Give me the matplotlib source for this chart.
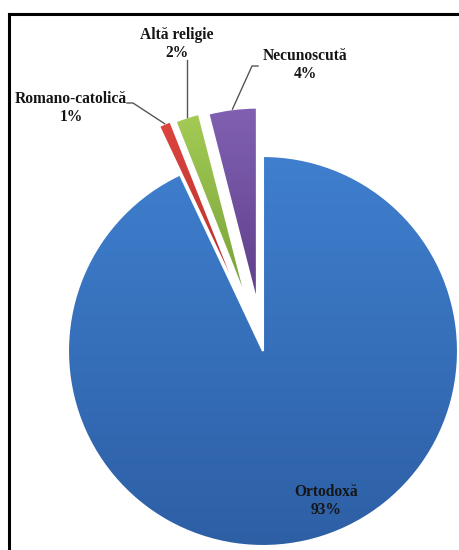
import numpy as np
import matplotlib.pyplot as plt
from matplotlib.colors import LinearSegmentedColormap
from matplotlib.lines import Line2D

# donnees
categories = ['Ortodoxă', 'Romano-catolică', 'Altă religie', 'Necunoscută']
values = [93, 1, 2, 4]
pct_labels = ['93%', '1%', '2%', '4%']

# styles
top_colors = ['#3f7fce', '#dc4540', '#a3cb55', '#8160b2']
bottom_colors = ['#2d5fa5', '#b52f2a', '#76a038', '#5e3f8a']
explode = [0, 0.27, 0.26, 0.25]

W, H = 460, 550
CX, CY, R = 263, 351, 195


def to_data(px, py):
    # pixel de l'image -> coordonnees du camembert
    return (px - CX) / R, (CY - py) / R


fig = plt.figure(figsize=(W / 100, H / 100), dpi=100)
ax = fig.add_axes([0, 0, 1, 1])

wedges, _ = ax.pie(values, startangle=90, counterclock=False, explode=explode,
                   radius=1, center=(0, 0), normalize=True,
                   wedgeprops=dict(linewidth=1.5, edgecolor='white'))

# degrade vertical dans chaque part
grad = np.linspace(1, 0, 256).reshape(-1, 1)
for w, c0, c1 in zip(wedges, top_colors, bottom_colors):
    cmap = LinearSegmentedColormap.from_list('g', [c1, c0])
    ext = w.get_path().get_extents()
    im = ax.imshow(grad, extent=(ext.x0, ext.x1, ext.y0, ext.y1), cmap=cmap,
                   aspect='auto', origin='upper', zorder=1, interpolation='bilinear')
    im.set_clip_path(w)
    w.set_facecolor('none')
    w.set_zorder(2)

# etiquettes et traits de rappel
font = dict(family=['Liberation Serif', 'DejaVu Serif'], weight='bold', size=11.2,
            color='#151515', ha='center', va='center', linespacing=1.1)
label_px = [(326, 501), (71, 108), (177, 44), (305, 65)]
# coude du trait : liste de points pixel, 'v' = trait vertical depuis y donne
elbow_px = [None, [(127, 103), (133, 103)], 'v60', [(258, 66), (252, 66)]]

for i, w in enumerate(wedges):
    lx, ly = to_data(*label_px[i])
    ax.text(lx, ly, categories[i] + '\n' + pct_labels[i], zorder=5, **font)
    if elbow_px[i] is None:
        continue
    mid = np.deg2rad((w.theta1 + w.theta2) / 2)
    ex = w.center[0] + w.r * np.cos(mid)
    ey = w.center[1] + w.r * np.sin(mid)
    if isinstance(elbow_px[i], str):
        pts = [(ex, to_data(0, float(elbow_px[i][1:]))[1])]
    else:
        pts = [to_data(*p) for p in elbow_px[i]]
    pts.append((ex, ey))
    xs, ys = zip(*pts)
    ax.plot(xs, ys, color='#555555', lw=1, zorder=4)

ax.set_xlim(-CX / R, (W - CX) / R)
ax.set_ylim(-(H - CY) / R, CY / R)
ax.set_aspect('equal')
ax.axis('off')

# cadre noir (haut et gauche)
fig.add_artist(Line2D([9 / W, 1], [1 - 14 / H, 1 - 14 / H], color='black', lw=2.2,
                      transform=fig.transFigure))
fig.add_artist(Line2D([9 / W, 9 / W], [0, 1 - 14 / H], color='black', lw=2.2,
                      transform=fig.transFigure))

fig.savefig('out.png', dpi=100)
